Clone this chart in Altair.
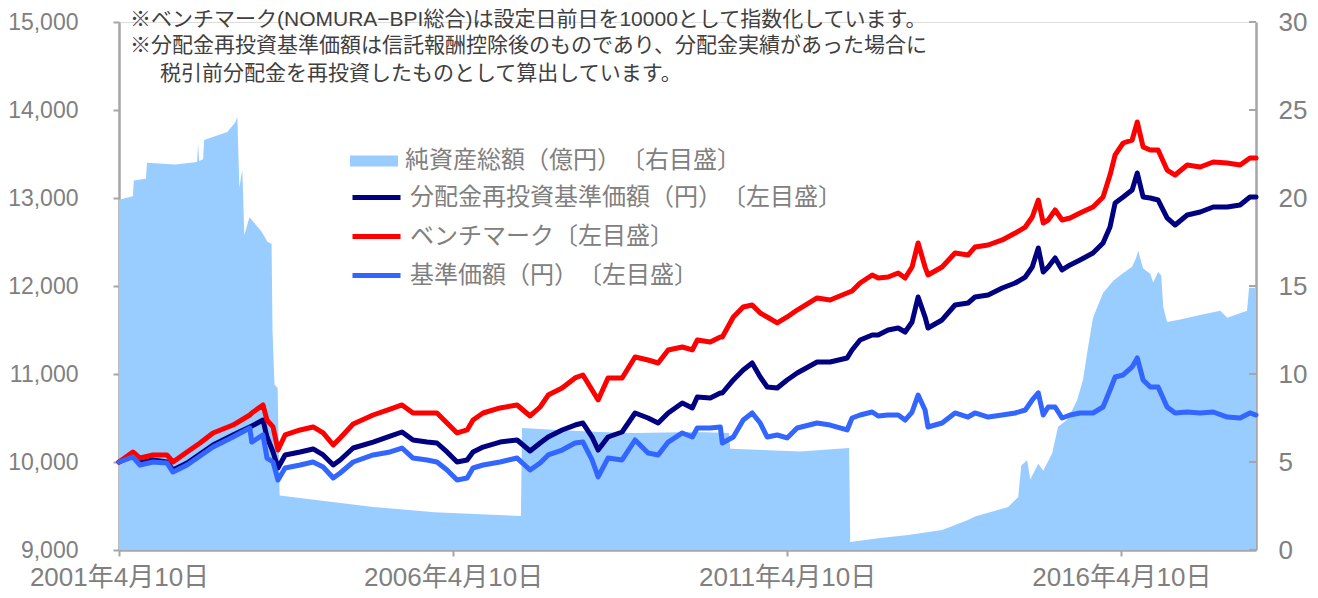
import altair as alt
import pandas as pd

# ---------------- data ----------------
line_dates = [
    "2001-04-10", "2001-06-25", "2001-08-03", "2001-10-13", "2001-12-28", "2002-01-30", "2002-04-17",
    "2002-06-27", "2002-09-06", "2002-12-24", "2003-03-26", "2003-04-06", "2003-06-06", "2003-06-28",
    "2003-07-31", "2003-08-27", "2003-10-05", "2003-12-26", "2004-03-06", "2004-04-30", "2004-06-24",
    "2004-08-01", "2004-10-11", "2005-01-28", "2005-05-01", "2005-07-05", "2005-09-03", "2005-11-19",
    "2006-01-12", "2006-03-08", "2006-05-02", "2006-06-26", "2006-07-28", "2006-09-21", "2006-12-23",
    "2007-03-26", "2007-06-05", "2007-07-30", "2007-09-12", "2007-11-27", "2008-02-06", "2008-03-20",
    "2008-05-09", "2008-06-11", "2008-08-04", "2008-10-20", "2008-12-30", "2009-03-11", "2009-05-05",
    "2009-06-29", "2009-09-14", "2009-11-08", "2009-12-05", "2010-02-14", "2010-04-10", "2010-04-21",
    "2010-06-20", "2010-08-13", "2010-10-01", "2010-11-14", "2010-12-22", "2011-02-15", "2011-04-10",
    "2011-06-04", "2011-09-21", "2011-12-01", "2012-03-03", "2012-03-30", "2012-05-13", "2012-07-18",
    "2012-08-20", "2012-10-13", "2012-12-07", "2013-01-14", "2013-02-21", "2013-03-26", "2013-05-03",
    "2013-05-19", "2013-08-04", "2013-10-14", "2013-12-24", "2014-01-31", "2014-04-13", "2014-06-29",
    "2014-09-08", "2014-11-02", "2014-12-10", "2015-01-12", "2015-02-08", "2015-03-07", "2015-04-14",
    "2015-05-22", "2015-07-05", "2015-08-28", "2015-11-07", "2016-01-01", "2016-02-08", "2016-03-07",
    "2016-04-20", "2016-06-08", "2016-07-06", "2016-08-07", "2016-09-15", "2016-10-28", "2016-12-16",
    "2017-01-29", "2017-04-05", "2017-06-15", "2017-08-25", "2017-11-10", "2018-01-19", "2018-03-14",
    "2018-04-16",
]

reinvest_nav = [
    10000, 10080, 9989, 10023, 10000, 9909, 9989, 10091, 10193, 10307, 10398, 10409, 10477, 10284,
    10114, 9932, 10080, 10114, 10148, 10080, 9966, 10023, 10159, 10227, 10295, 10341, 10250, 10227,
    10216, 10114, 10000, 10023, 10114, 10170, 10227, 10250, 10125, 10216, 10284, 10364, 10420, 10443,
    10284, 10136, 10284, 10341, 10557, 10500, 10443, 10557, 10670, 10614, 10739, 10727, 10784, 10784,
    10932, 11045, 11125, 10966, 10852, 10841, 10932, 11011, 11136, 11136, 11182, 11273, 11386, 11443,
    11443, 11500, 11523, 11477, 11591, 11875, 11648, 11523, 11614, 11784, 11807, 11875, 11898, 11977,
    12034, 12102, 12216, 12432, 12159, 12216, 12318, 12182, 12239, 12295, 12375, 12489, 12670, 12943,
    13011, 13091, 13284, 13011, 13000, 12977, 12773, 12693, 12807, 12841, 12898, 12898, 12920, 13011,
    13011,
]

benchmark = [
    10000, 10114, 10045, 10080, 10080, 10000, 10114, 10216, 10330, 10420, 10534, 10557, 10648, 10477,
    10398, 10136, 10307, 10364, 10398, 10330, 10193, 10273, 10432, 10534, 10602, 10648, 10557, 10557,
    10557, 10443, 10330, 10364, 10477, 10557, 10614, 10648, 10523, 10625, 10761, 10841, 10955, 10989,
    10818, 10705, 10955, 10955, 11193, 11159, 11125, 11273, 11307, 11273, 11386, 11364, 11420, 11420,
    11648, 11761, 11784, 11693, 11648, 11580, 11648, 11727, 11864, 11841, 11920, 11943, 12034, 12125,
    12091, 12102, 12148, 12091, 12216, 12489, 12216, 12125, 12216, 12375, 12352, 12443, 12466, 12523,
    12602, 12670, 12784, 12977, 12716, 12750, 12864, 12750, 12773, 12830, 12898, 13011, 13261, 13489,
    13625, 13659, 13864, 13580, 13545, 13545, 13318, 13261, 13375, 13352, 13409, 13398, 13375, 13455,
    13455,
]

nav = [
    10000, 10057, 9966, 10000, 9989, 9886, 9966, 10068, 10170, 10284, 10386, 10227, 10307, 10045,
    10000, 9795, 9932, 9966, 10000, 9943, 9818, 9875, 10000, 10080, 10114, 10159, 10045, 10023,
    10000, 9909, 9795, 9818, 9932, 9966, 10000, 10045, 9909, 9989, 10080, 10136, 10216, 10227,
    10023, 9830, 10045, 10023, 10250, 10102, 10080, 10227, 10330, 10284, 10386, 10386, 10398, 10216,
    10284, 10477, 10557, 10443, 10284, 10307, 10273, 10386, 10443, 10420, 10364, 10500, 10534, 10568,
    10523, 10534, 10534, 10477, 10568, 10761, 10591, 10398, 10443, 10557, 10511, 10557, 10511, 10534,
    10557, 10591, 10705, 10784, 10534, 10625, 10625, 10500, 10534, 10557, 10557, 10625, 10818, 10966,
    10989, 11080, 11182, 10932, 10852, 10852, 10625, 10557, 10568, 10557, 10568, 10511, 10500, 10557,
    10534,
]

asset_dates = [
    "2001-04-10", "2001-06-25", "2001-06-30", "2001-09-04", "2001-09-10", "2002-02-10", "2002-06-11",
    "2002-06-16", "2002-06-22", "2002-07-14", "2002-07-19", "2002-11-23", "2003-01-06", "2003-01-17",
    "2003-01-28", "2003-02-13", "2003-02-24", "2003-03-24", "2003-05-29", "2003-07-01", "2003-07-23",
    "2003-07-28", "2003-08-08", "2003-08-25", "2003-09-05", "2005-01-28", "2005-12-29", "2007-04-16",
    "2007-04-22", "2007-11-27", "2008-06-22", "2008-12-30", "2009-11-24", "2010-05-28", "2010-06-03",
    "2011-06-20", "2012-03-14", "2012-03-20", "2012-08-31", "2013-01-31", "2013-08-04", "2013-12-24",
    "2014-01-31", "2014-07-31", "2014-09-24", "2014-10-11", "2014-11-12", "2014-11-29", "2015-01-12",
    "2015-02-08", "2015-03-29", "2015-04-30", "2015-06-19", "2015-08-12", "2015-09-14", "2015-10-06",
    "2015-11-07", "2016-01-01", "2016-02-26", "2016-04-15", "2016-06-08", "2016-06-30", "2016-07-11",
    "2016-08-07", "2016-09-15", "2016-10-01", "2016-10-28", "2016-11-14", "2016-11-25", "2016-12-16",
    "2017-02-26", "2017-06-15", "2017-10-03", "2017-11-10", "2018-02-26", "2018-03-09", "2018-04-16",
]

net_assets = [
    19.9, 20.1, 21.0, 21.1, 22.0, 21.9, 22.05, 23.1, 22.1, 22.2, 23.3, 23.75, 24.3, 24.6,
    20.6, 21.6, 17.9, 18.9, 18.1, 17.5, 17.4, 12.5, 9.4, 9.2, 3.1, 2.45, 2.15, 1.93,
    6.93, 6.8, 6.7, 6.65, 6.7, 6.65, 5.75, 5.6, 5.8, 0.45, 0.68, 0.85, 1.14, 1.7,
    1.9, 2.44, 3.0, 4.8, 5.1, 4.0, 4.9, 4.5, 5.5, 7.0, 7.4, 8.5, 9.7, 11.2,
    13.2, 14.6, 15.3, 15.7, 16.1, 16.6, 17.0, 16.0, 15.7, 15.2, 15.8, 15.6, 13.8, 12.95,
    13.1, 13.35, 13.6, 13.2, 13.6, 14.9, 14.9,
]

ZW = "\u200b"  # keeps adjacent full-width brackets from being squeezed together
S_AREA = "純資産総額（億円）" + ZW + "〔右目盛〕"
S_REINV = "分配金再投資基準価額（円）" + ZW + "〔左目盛〕"
S_BM = "ベンチマーク〔左目盛〕"
S_NAV = "基準価額（円）" + ZW + "〔左目盛〕"

left_ticks = [9000, 10000, 11000, 12000, 13000, 14000, 15000]
right_ticks = [0, 5, 10, 15, 20, 25, 30]
x_tick_dates = [(2001, 4, 10), (2006, 4, 10), (2011, 4, 10), (2016, 4, 10)]

notes = [
    "※ベンチマーク(NOMURA−BPI総合)は設定日前日を10000として指数化しています。",
    "※分配金再投資基準価額は信託報酬控除後のものであり、分配金実績があった場合に",
    "税引前分配金を再投資したものとして算出しています。",
]

# ---------------- tables ----------------
lines_df = pd.concat([
    pd.DataFrame({"date": line_dates, "value": reinvest_nav, "series": S_REINV}),
    pd.DataFrame({"date": line_dates, "value": benchmark, "series": S_BM}),
    pd.DataFrame({"date": line_dates, "value": nav, "series": S_NAV}),
], ignore_index=True)
area_df = pd.DataFrame({"date": asset_dates, "value": net_assets, "name": S_AREA})
rt_df = pd.DataFrame({"value": right_ticks})

# ---------------- style ----------------
W, H = 1137, 528
FONT = "Liberation Sans, Noto Sans CJK JP"
AXIS_GRAY = "#A6A6A6"
LABEL_GRAY = "#808080"

def dt(y, m, d):
    return alt.DateTime(year=y, month=m, date=d, utc=True)

x_enc = alt.X(
    "date:T",
    scale=alt.Scale(type="utc", domain=[dt(2001, 4, 10), dt(2018, 4, 16)]),
    axis=alt.Axis(
        values=[dt(*t) for t in x_tick_dates],
        labelExpr="utcFormat(datum.value, '%Y年%-m月%-d日')",
        title=None, grid=False, domainColor=AXIS_GRAY, domainWidth=2.5,
        tickColor=AXIS_GRAY, tickWidth=2, tickSize=6, labelPadding=8, labelFlush=False,
        labelLimit=400, labelOverlap=False,
        labelFontSize=26, labelColor=LABEL_GRAY, labelFont=FONT, labelFontWeight="normal",
    ),
)

right_axis = alt.Axis(
    orient="right", values=right_ticks, title=None, grid=False,
    domainColor=AXIS_GRAY, domainWidth=2.5, ticks=False, labelPadding=22,
    labelFontSize=26, labelColor=LABEL_GRAY, labelFont=FONT,
)
right_scale = alt.Scale(domain=[0, 30], nice=False, zero=True)

area = alt.Chart(area_df).mark_area(opacity=1, interpolate="linear").encode(
    x=x_enc,
    y=alt.Y("value:Q", scale=right_scale, axis=right_axis),
    fill=alt.Fill(
        "name:N",
        scale=alt.Scale(domain=[S_AREA], range=["#99CCFF"]),
        legend=alt.Legend(
            orient="none", legendX=231, legendY=115, title=None, padding=0,
            symbolType="M-1,-0.23H1V0.23H-1Z", symbolSize=2304, symbolStrokeWidth=0,
            symbolOpacity=1, labelFontSize=24, labelColor=LABEL_GRAY, labelFont=FONT,
            labelLimit=900, labelOffset=7,
        ),
    ),
)

rticks = alt.Chart(rt_df).mark_rule(color=AXIS_GRAY, strokeWidth=2).encode(
    y=alt.Y("value:Q", scale=right_scale, axis=right_axis),
    x=alt.value(W - 7),
    x2=alt.value(W),
)

right_layer = alt.layer(area, rticks)

line_legend = alt.Legend(
    orient="none", legendX=231, legendY=149, title=None, padding=0,
    symbolType="stroke", symbolSize=2304, labelFontSize=24, labelColor=LABEL_GRAY,
    labelFont=FONT, labelLimit=900, labelOffset=7, rowPadding=-3.5,
)
series_domain = [S_REINV, S_BM, S_NAV]

lines = alt.Chart(lines_df).mark_line(strokeJoin="round", strokeCap="round").encode(
    x=x_enc,
    y=alt.Y(
        "value:Q",
        scale=alt.Scale(domain=[9000, 15000], nice=False, zero=False),
        axis=alt.Axis(
            orient="left", values=left_ticks, labelExpr="format(datum.value, ',')",
            title=None, grid=False,
            domainColor=AXIS_GRAY, domainWidth=2.5, tickColor=AXIS_GRAY, tickWidth=2,
            tickSize=6, labelPadding=35, labelFontSize=23, labelColor=LABEL_GRAY, labelFont=FONT,
        ),
    ),
    stroke=alt.Stroke(
        "series:N",
        scale=alt.Scale(domain=series_domain, range=["#000080", "#FF0000", "#3366FF"]),
        legend=line_legend,
    ),
    strokeWidth=alt.StrokeWidth(
        "series:N",
        scale=alt.Scale(domain=series_domain, range=[5, 5, 2.5]),
        legend=line_legend,
    ),
)

note_layers = []
for txt, xx, yy in zip(notes, [11, 11, 41], [-2, 24, 52]):
    note_layers.append(
        alt.Chart(pd.DataFrame({"t": [txt]})).mark_text(
            align="left", baseline="middle", font=FONT, fontSize=21, color="#404040",
        ).encode(text="t:N", x=alt.value(xx), y=alt.value(yy))
    )

chart = alt.layer(right_layer, lines, *note_layers).resolve_scale(
    y="independent"
).properties(
    width=W, height=H,
    autosize=alt.AutoSizeParams(type="none"),
    padding={"left": 111, "top": 14, "right": 54, "bottom": 40},
).configure_view(strokeWidth=0).configure(font=FONT)

chart.save("out.html", embed_options={"renderer": "svg", "actions": False})
